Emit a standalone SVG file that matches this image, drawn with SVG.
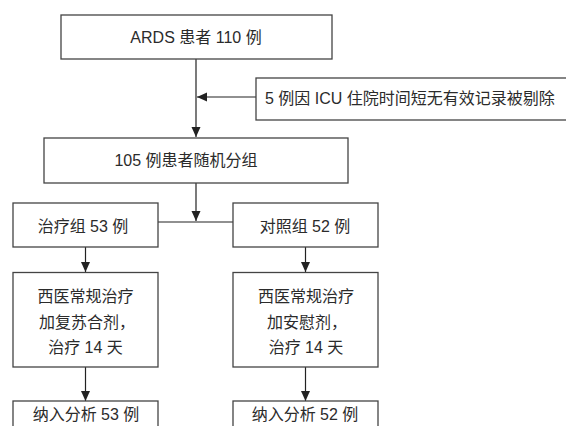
<svg xmlns="http://www.w3.org/2000/svg" width="566" height="426" viewBox="0 0 566 426">
<style>
.box{fill:#fff;stroke:#444;stroke-width:1.3}
.t{font-family:"Liberation Sans","Noto Sans CJK SC",sans-serif;font-size:16px;fill:#2b2b2b;text-anchor:middle}
.tl{text-anchor:start}
.ln{stroke:#222;stroke-width:1.2;fill:none}
</style>
<defs>
<marker id="ah" markerUnits="userSpaceOnUse" markerWidth="10" markerHeight="10" viewBox="0 0 10 10" refX="10" refY="5" orient="auto">
<path d="M0,0.5 L10,5 L0,9.5 Z" fill="#222"/>
</marker>
</defs>
<rect width="566" height="426" fill="#fff"/>
<g id="connectors">
<line class="ln" x1="196" y1="59" x2="196" y2="137" marker-end="url(#ah)"/>
<line class="ln" x1="256" y1="97" x2="197" y2="97" marker-end="url(#ah)"/>
<line class="ln" x1="196" y1="183" x2="196" y2="221" marker-end="url(#ah)"/>
<line class="ln" x1="158" y1="222" x2="233" y2="222"/>
<line class="ln" x1="85.5" y1="247" x2="85.5" y2="272" marker-end="url(#ah)"/>
<line class="ln" x1="305.5" y1="247" x2="305.5" y2="272" marker-end="url(#ah)"/>
<line class="ln" x1="85.5" y1="367" x2="85.5" y2="401" marker-end="url(#ah)"/>
<line class="ln" x1="305.5" y1="367" x2="305.5" y2="401" marker-end="url(#ah)"/>
</g>
<g id="n1">
<rect class="box" x="61" y="15" width="271" height="44"/>
<text class="t" x="196" y="43">ARDS 患者 110 例</text>
</g>
<g id="n2">
<rect class="box" x="256" y="78" width="320" height="42"/>
<text class="t tl" x="265" y="104">5 例因 ICU 住院时间短无有效记录被剔除</text>
</g>
<g id="n3">
<rect class="box" x="44" y="138" width="304" height="45"/>
<text class="t" x="186" y="166">105 例患者随机分组</text>
</g>
<g id="n4">
<rect class="box" x="13" y="203" width="145" height="44"/>
<text class="t" x="83" y="232">治疗组 53 例</text>
</g>
<g id="n5">
<rect class="box" x="233" y="203" width="145" height="44"/>
<text class="t" x="305" y="232">对照组 52 例</text>
</g>
<g id="n6">
<rect class="box" x="13" y="272.5" width="145" height="94.5"/>
<text class="t" x="85.5" y="302">西医常规治疗</text>
<text class="t" x="87" y="328">加复苏合剂，</text>
<text class="t" x="85.5" y="353">治疗 14 天</text>
</g>
<g id="n7">
<rect class="box" x="233" y="272.5" width="145" height="94.5"/>
<text class="t" x="306" y="302">西医常规治疗</text>
<text class="t" x="307" y="328">加安慰剂，</text>
<text class="t" x="306" y="353">治疗 14 天</text>
</g>
<g id="n8">
<rect class="box" x="13" y="401" width="145" height="40"/>
<text class="t" x="86" y="420">纳入分析 53 例</text>
</g>
<g id="n9">
<rect class="box" x="233" y="401" width="145" height="40"/>
<text class="t" x="305" y="420">纳入分析 52 例</text>
</g>
</svg>
